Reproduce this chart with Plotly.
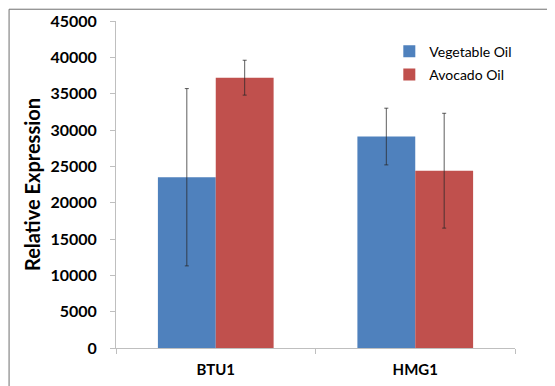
import plotly.graph_objects as go

categories = ["BTU1", "HMG1"]
veg_values = [23500, 29100]
veg_errors = [12200, 3900]
avo_values = [37200, 24400]
avo_errors = [2400, 7900]

FONT = "Lato, 'Open Sans', sans-serif"

fig = go.Figure()
fig.add_trace(go.Bar(
    name="Vegetable Oil", x=categories, y=veg_values, legendgroup="veg",
    marker=dict(color="#4F81BD", line=dict(width=0)),
    error_y=dict(type="data", array=veg_errors, color="rgba(40,40,40,0.75)", thickness=1, width=2),
))
fig.add_trace(go.Bar(
    name="Avocado Oil", x=categories, y=avo_values, legendgroup="avo",
    marker=dict(color="#C0504D", line=dict(width=0)),
    error_y=dict(type="data", array=avo_errors, color="rgba(40,40,40,0.75)", thickness=1, width=2),
))

fig.update_layout(
    width=555, height=386,
    margin=dict(l=108, r=48, t=13, b=46),
    paper_bgcolor="white", plot_bgcolor="white",
    barmode="group", bargap=0.42, bargroupgap=0,
    font=dict(family=FONT, color="#000"),
    showlegend=True,
    legend=dict(x=0.685, y=0.955, xanchor="left", yanchor="top",
                font=dict(size=14, family=FONT), bgcolor="rgba(0,0,0,0)",
                traceorder="grouped", tracegroupgap=2, itemwidth=30),
    xaxis=dict(
        showline=True, linecolor="#BFBFBF", linewidth=1,
        ticks="outside", ticklen=5, tickcolor="#BFBFBF", tickson="boundaries",
        tickfont=dict(size=15, family=FONT, weight="bold"), ticklabelstandoff=8,
        showgrid=False, automargin=False,
    ),
    yaxis=dict(
        range=[0, 45000], dtick=5000, tickformat="d",
        showline=True, linecolor="#BFBFBF", linewidth=1,
        ticks="outside", ticklen=5, tickcolor="#BFBFBF",
        tickfont=dict(size=16, family=FONT, weight="bold"), ticklabelstandoff=10,
        showgrid=False, zeroline=False, automargin=False,
        title=dict(text="Relative Expression", font=dict(size=20, family=FONT, weight="bold"), standoff=4),
    ),
    shapes=[dict(type="rect", xref="paper", yref="paper",
                 x0=-0.268, x1=1.2, y0=-0.2, y1=1.036,
                 line=dict(color="#6F6F6F", width=1), fillcolor="rgba(0,0,0,0)", layer="below")],
)

fig.write_html("out.html")
